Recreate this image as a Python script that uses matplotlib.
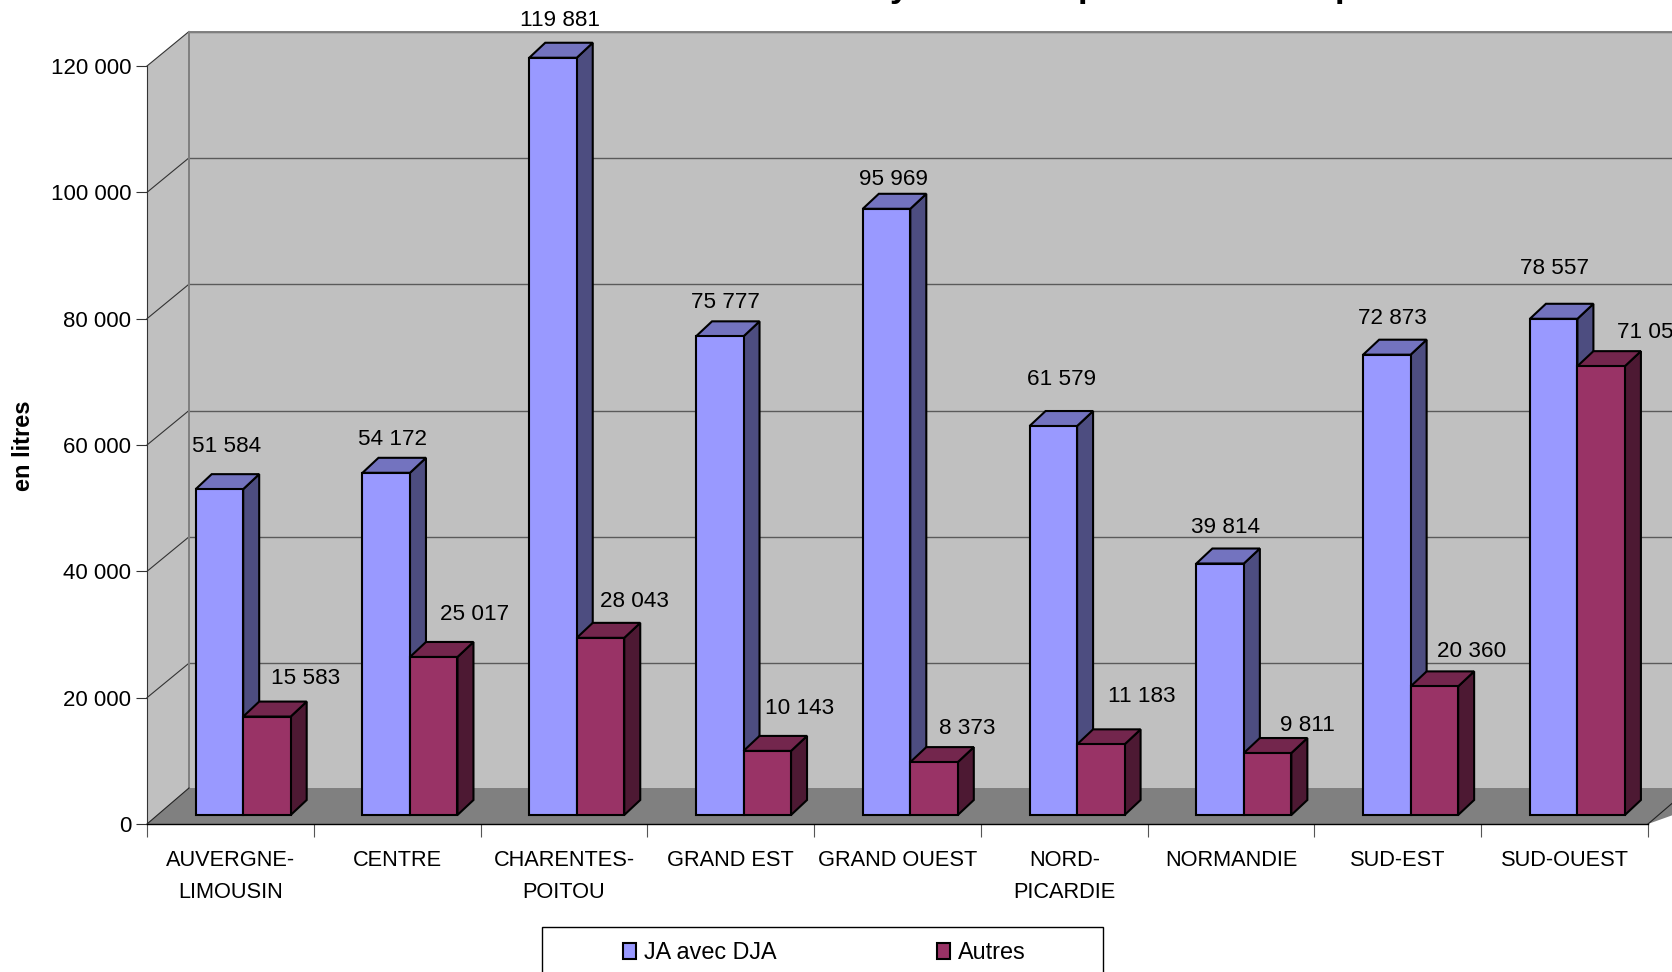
import matplotlib
matplotlib.use("Agg")
import matplotlib.pyplot as plt
from matplotlib.patches import Patch, Polygon, Rectangle

plt.rcParams['font.family'] = ['Liberation Sans', 'DejaVu Sans']

# data
regions = ["AUVERGNE-\nLIMOUSIN", "CENTRE", "CHARENTES-\nPOITOU", "GRAND EST", "GRAND OUEST",
           "NORD-\nPICARDIE", "NORMANDIE", "SUD-EST", "SUD-OUEST"]
ja_avec_dja = [51584, 54172, 119881, 75777, 95969, 61579, 39814, 72873, 78557]
autres = [15583, 25017, 28043, 10143, 8373, 11183, 9811, 20360, 71057]
y_ticks = [0, 20000, 40000, 60000, 80000, 100000, 120000]

# label offsets from the front top centre of each bar, in pixels (they are not regular in the original)
ja_label_dx = [7, 6, 7, 6, 7, 8, 5, 6, 1]
ja_label_dy = [43, 33, 37, 34, 29, 47, 36, 36, 50]
autres_label_dx = [39, 41, 34, 32, 33, 41, 40, 37, 50]
autres_label_dy = [38, 42, 36, 42, 34, 48, 28, 35, 34]

W, H = 1672, 972
x0, x1 = 147, 1648     # front plane of the chart, pixels
y0, y1 = 824, 66

fig = plt.figure(figsize=(W / 100, H / 100), dpi=100)
ax = fig.add_axes([x0 / W, 1 - y0 / H, (x1 - x0) / W, (y0 - y1) / H])
ax.set_xlim(0, len(regions))
ax.set_ylim(0, 120000)
ax.patch.set_visible(False)

# one pixel in data units
px = len(regions) / (x1 - x0)
py = 120000 / (y0 - y1)

wall_dx, wall_dy = 42 * px, 36 * py
grid_dy = 34.5 * py
xmax = len(regions)
far = xmax + 0.6


def poly(points, color, edge="none", lw=0, z=1):
    ax.add_patch(Polygon(points, closed=True, facecolor=color, edgecolor=edge, linewidth=lw,
                         joinstyle="miter", clip_on=False, zorder=z))


# walls and floor
top = 120000 + grid_dy
poly([(0, 0), (wall_dx, wall_dy), (wall_dx, top), (0, 120000)], "#C0C0C0")
poly([(wall_dx, wall_dy), (far, wall_dy), (far, top), (wall_dx, top)], "#C0C0C0")
poly([(0, 0), (xmax, 0), (far, wall_dy), (wall_dx, wall_dy)], "#808080", z=1.1)

for v in y_ticks[1:]:
    ax.plot([wall_dx, far], [v + grid_dy, v + grid_dy], color="#5a5a5a", lw=1, clip_on=False, zorder=1.5)
    ax.plot([0, wall_dx], [v, v + grid_dy], color="#333333", lw=0.8, clip_on=False, zorder=1.5)
ax.plot([wall_dx, wall_dx], [wall_dy, top], color="#808080", lw=1.4, clip_on=False, zorder=1.5)
ax.plot([0, wall_dx], [0, wall_dy], color="#222222", lw=0.8, clip_on=False, zorder=1.5)
ax.plot([xmax, far], [0, (far - xmax) / wall_dx * wall_dy], color="#222222", lw=0.8, clip_on=False, zorder=1.5)
ax.plot([wall_dx, far], [top, top], color="#808080", lw=1.4, clip_on=False, zorder=1.5)

# 3d bars
bar_w = 47.5 * px
shift_x, shift_y = 12.8 * px, 9 * py
depth_x, depth_y = 16 * px, 15 * py


def bar3d(left, value, front, top_c, side, z):
    b = shift_y
    t = value + shift_y
    r = left + bar_w
    edge = dict(edge="black", lw=1.5, z=z)
    poly([(r, b), (r + depth_x, b + depth_y), (r + depth_x, t + depth_y), (r, t)], side, **edge)
    poly([(left, t), (r, t), (r + depth_x, t + depth_y), (left + depth_x, t + depth_y)], top_c, **edge)
    poly([(left, b), (r, b), (r, t), (left, t)], front, **edge)


def value_label(text, x, y, dx, dy):
    ax.annotate(text, (x, y), xytext=(dx, dy), textcoords="offset pixels", ha="center", va="center",
                fontsize=16.2, color="black", annotation_clip=False, zorder=10)


def fmt(v):
    return f"{v:,}".replace(",", " ")


for i in range(len(regions)):
    centre = i + 0.5 + shift_x
    bar3d(centre - bar_w, ja_avec_dja[i], "#9999FF", "#7373BF", "#4D4D80", 3 + i * 0.1)
    bar3d(centre, autres[i], "#993366", "#73264D", "#4D1933", 3.05 + i * 0.1)
    value_label(fmt(ja_avec_dja[i]), centre - bar_w / 2, ja_avec_dja[i] + shift_y, ja_label_dx[i], ja_label_dy[i])
    value_label(fmt(autres[i]), centre + bar_w / 2, autres[i] + shift_y, autres_label_dx[i], autres_label_dy[i])

# axes
ax.spines["top"].set_visible(False)
ax.spines["right"].set_visible(False)
ax.spines["left"].set_zorder(2)
ax.spines["bottom"].set_zorder(2)
ax.spines["left"].set_color("#333333")
ax.spines["left"].set_linewidth(0.8)
ax.spines["bottom"].set_linewidth(1)
ax.set_yticks(y_ticks)
ax.set_yticklabels([fmt(v) for v in y_ticks])
ax.tick_params(axis="y", length=8, width=0.8, pad=3.5, labelsize=16, color="#333333")
ax.set_xticks(range(len(regions) + 1))
ax.set_xticklabels([])
ax.tick_params(axis="x", which="major", length=9.5, width=0.8, color="#555555")
ax.set_xticks([i + 0.5 for i in range(len(regions))], minor=True)
ax.set_xticklabels(regions, minor=True, fontsize=15.7, linespacing=1.68)
ax.tick_params(axis="x", which="minor", length=0, pad=19)

fig.text(24 / W, 1 - 446 / H, "en litres", rotation=90, fontsize=17, fontweight="bold", ha="center", va="center")

# only the descenders of the title are left in the picture, the rest is cut off
for letter, xp in zip("ypp", [890, 1078, 1335]):
    fig.text(xp / W, 1 + 3 / H, letter, fontsize=25, fontweight="bold", ha="left", va="baseline")

# legend, its box runs off the bottom of the picture
fig.add_artist(Rectangle((542 / W, -0.02), (1103 - 542) / W, 0.02 + (972 - 927) / H, transform=fig.transFigure,
                         facecolor="white", edgecolor="black", linewidth=1))
handles = [Patch(facecolor="#9999FF", edgecolor="black", linewidth=1.5, label="JA avec DJA"),
           Patch(facecolor="#993366", edgecolor="black", linewidth=1.5, label="Autres")]
fig.legend(handles=handles, loc="upper left", bbox_to_anchor=(623 / W, 1 - 941 / H), ncol=2, frameon=False,
           fontsize=16.8, borderpad=0, borderaxespad=0, handlelength=0.57, handleheight=0.7,
           handletextpad=0.33, columnspacing=6.87)

fig.savefig("out.png", dpi=100)
